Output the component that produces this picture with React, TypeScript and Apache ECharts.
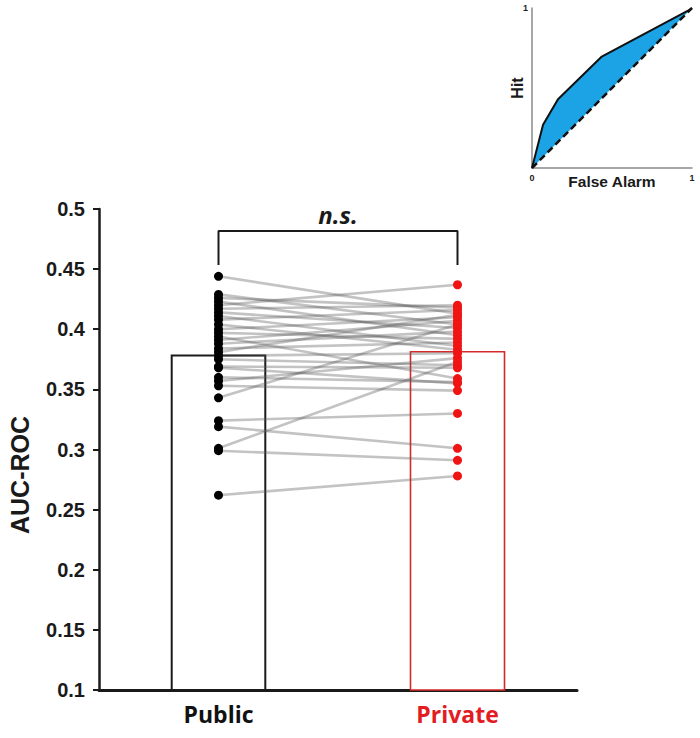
import React, { useEffect, useRef } from "react";
import * as echarts from "echarts";

// Conditions on the category axis
const conditions = ["Public", "Private"];

// Per-participant AUC-ROC, paired by index (Public[i] <-> Private[i])
const publicAUC = [
  0.444, 0.429, 0.426, 0.423, 0.42, 0.417, 0.414, 0.411, 0.408, 0.404,
  0.4, 0.397, 0.394, 0.391, 0.388, 0.384, 0.381, 0.378, 0.375, 0.369,
  0.368, 0.36, 0.357, 0.353, 0.343, 0.324, 0.319, 0.301, 0.299, 0.262,
];
const privateAUC = [
  0.413, 0.404, 0.418, 0.395, 0.437, 0.42, 0.401, 0.386, 0.416, 0.383,
  0.41, 0.392, 0.359, 0.407, 0.398, 0.389, 0.412, 0.38, 0.37, 0.368,
  0.355, 0.356, 0.376, 0.349, 0.404, 0.33, 0.301, 0.373, 0.291, 0.278,
];

// Group means drawn as open bars
const meanAUC = [0.379, 0.382];

// Significance bracket levels
const bracketLow = 0.4534;
const bracketHigh = 0.4817;

// Example ROC curve for the inset (false alarm rate vs hit rate)
const rocFalseAlarm = [0, 0.069, 0.1625, 0.433, 0.975, 1];
const rocHit = [0, 0.27, 0.43, 0.694, 0.983, 1];

const INK = "#1a1a1a";
const RED_TEXT = "#e31b23";
const RED_DOT = "#f01414";
const RED_BORDER = "#d42a2a";

export default function App() {
  const ref = useRef<HTMLDivElement>(null);

  useEffect(() => {
    if (!ref.current) return;
    const chart = echarts.init(ref.current, undefined, { renderer: "svg" });

    const pairSeries = publicAUC.map((p, i) => ({
      type: "line",
      xAxisIndex: 0,
      yAxisIndex: 0,
      data: [
        [0, p],
        [1, privateAUC[i]],
      ],
      symbol: "none",
      silent: true,
      z: 2,
      lineStyle: { color: "rgba(90,90,90,0.36)", width: 2.6 },
    }));

    const rocPoints = rocFalseAlarm.map((x, i) => [x, rocHit[i]]);

    const insetLabel = {
      fontFamily: "Liberation Sans",
      fontWeight: "bold",
      fontSize: 9,
      color: "#222222",
    };

    const option: any = {
      animation: false,
      backgroundColor: "#ffffff",
      grid: [
        { left: 99, right: 123, top: 209, bottom: 48, containLabel: false },
        { left: 532, top: 8, width: 160, height: 160, containLabel: false },
      ],
      xAxis: [
        {
          type: "category",
          gridIndex: 0,
          data: conditions,
          boundaryGap: true,
          axisLine: { lineStyle: { color: INK, width: 3 } },
          axisTick: {
            alignWithLabel: true,
            length: 5,
            lineStyle: { color: INK, width: 2 },
          },
          axisLabel: {
            margin: 12,
            fontFamily: "Open Sans",
            fontWeight: "bold",
            fontSize: 23,
            color: (value: string) => (value === "Private" ? RED_TEXT : "#111111"),
          },
          splitLine: { show: false },
        },
        {
          type: "value",
          gridIndex: 1,
          min: 0,
          max: 1,
          interval: 1,
          name: "False Alarm",
          nameLocation: "middle",
          nameGap: 5,
          nameMoveOverlap: false,
          nameTextStyle: {
            fontFamily: "Liberation Sans",
            fontWeight: "bold",
            fontSize: 15.5,
            color: INK,
            verticalAlign: "top",
          },
          axisLine: { lineStyle: { color: "#8a8a8a", width: 1.5 } },
          axisTick: { show: false },
          axisLabel: { margin: 5, ...insetLabel },
          splitLine: { show: false },
        },
      ],
      yAxis: [
        {
          type: "value",
          gridIndex: 0,
          min: 0.1,
          max: 0.5,
          interval: 0.05,
          axisLine: { show: true, lineStyle: { color: INK, width: 2.5 } },
          axisTick: { show: true, length: 6, lineStyle: { color: INK, width: 2 } },
          axisLabel: {
            margin: 14,
            fontFamily: "Liberation Sans",
            fontWeight: "bold",
            fontSize: 20,
            color: INK,
            formatter: (v: number) => String(+v.toFixed(2)),
          },
          splitLine: { show: false },
        },
        {
          type: "value",
          gridIndex: 1,
          min: 0,
          max: 1,
          interval: 1,
          name: "Hit",
          nameLocation: "middle",
          nameGap: 7,
          nameRotate: 90,
          nameMoveOverlap: false,
          nameTextStyle: {
            fontFamily: "Liberation Sans",
            fontWeight: "bold",
            fontSize: 16,
            color: INK,
            verticalAlign: "bottom",
          },
          axisLine: { show: true, lineStyle: { color: "#8a8a8a", width: 1.5 } },
          axisTick: { show: false },
          axisLabel: {
            margin: 4,
            ...insetLabel,
            formatter: (v: number) => (v === 1 ? "1" : ""),
          },
          splitLine: { show: false },
        },
      ],
      graphic: [
        {
          type: "text",
          x: 20,
          y: 475,
          rotation: Math.PI / 2,
          style: {
            text: "AUC-ROC",
            font: 'bold 25px "Liberation Sans"',
            fill: INK,
            textAlign: "center",
            textVerticalAlign: "middle",
          },
        },
        {
          type: "text",
          x: 338,
          y: 214,
          style: {
            text: "n.s.",
            font: 'italic bold 24px "Open Sans"',
            fill: INK,
            textAlign: "center",
            textVerticalAlign: "middle",
          },
        },
      ],
      series: [
        {
          type: "bar",
          xAxisIndex: 0,
          yAxisIndex: 0,
          barWidth: "40%",
          clip: true,
          silent: true,
          z: 1,
          data: [
            {
              value: meanAUC[0],
              itemStyle: { color: "#ffffff", borderColor: INK, borderWidth: 2 },
            },
            {
              value: meanAUC[1],
              itemStyle: { color: "#ffffff", borderColor: RED_BORDER, borderWidth: 1.6 },
            },
          ],
        },
        ...pairSeries,
        {
          type: "scatter",
          xAxisIndex: 0,
          yAxisIndex: 0,
          symbolSize: 9,
          z: 3,
          itemStyle: { color: "#000000", opacity: 1 },
          data: publicAUC.map((v) => [0, v]),
        },
        {
          type: "scatter",
          xAxisIndex: 0,
          yAxisIndex: 0,
          symbolSize: 9,
          z: 3,
          itemStyle: { color: RED_DOT, opacity: 1 },
          data: privateAUC.map((v) => [1, v]),
        },
        {
          // significance bracket between the two conditions
          type: "line",
          xAxisIndex: 0,
          yAxisIndex: 0,
          symbol: "none",
          silent: true,
          z: 3,
          lineStyle: { color: INK, width: 2 },
          data: [
            [0, bracketLow],
            [0, bracketHigh],
            [1, bracketHigh],
            [1, bracketLow],
          ],
        },
        {
          // area between the ROC curve and the chance diagonal
          type: "custom",
          xAxisIndex: 1,
          yAxisIndex: 1,
          silent: true,
          z: 1,
          data: rocPoints,
          renderItem: (params: any, api: any) => {
            if (params.dataIndex !== 0) return null;
            const pts = rocPoints.map((p) => api.coord(p));
            return {
              type: "polygon",
              shape: { points: pts },
              style: { fill: "#1ba3e6" },
            };
          },
        },
        {
          type: "line",
          xAxisIndex: 1,
          yAxisIndex: 1,
          symbol: "none",
          silent: true,
          z: 3,
          lineStyle: { color: "#111111", width: 2 },
          data: rocPoints,
        },
        {
          type: "line",
          xAxisIndex: 1,
          yAxisIndex: 1,
          symbol: "none",
          silent: true,
          z: 3,
          lineStyle: { color: "#111111", width: 2.5, type: [7, 4] },
          data: [
            [rocFalseAlarm[0], rocHit[0]],
            [rocFalseAlarm[rocFalseAlarm.length - 1], rocHit[rocHit.length - 1]],
          ],
        },
      ],
    };

    chart.setOption(option);
    return () => chart.dispose();
  }, []);

  return (
    <div
      ref={ref}
      style={{ position: "absolute", left: 0, top: 0, width: 700, height: 738, background: "#fff" }}
    />
  );
}
